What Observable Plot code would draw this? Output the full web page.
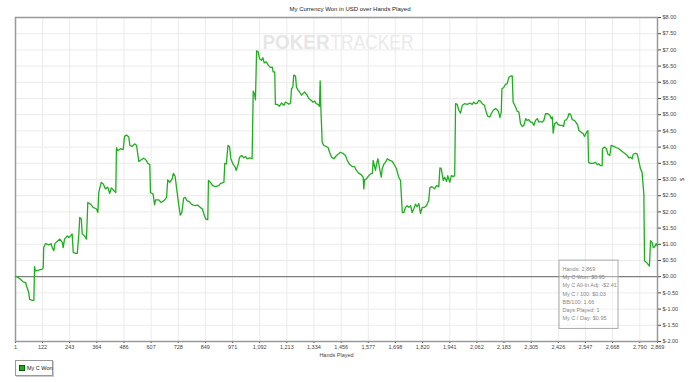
<!DOCTYPE html>
<html>
<head>
<meta charset="utf-8">
<script src="https://cdn.jsdelivr.net/npm/d3@7"></script>
<script src="https://cdn.jsdelivr.net/npm/@observablehq/plot@0.6"></script>
<style>
  html, body { margin: 0; padding: 0; background: #fff; }
  body { width: 700px; height: 382px; overflow: hidden; font-family: "Liberation Sans", Arial, sans-serif; }
  #title { height: 13px; box-sizing: border-box; padding-top: 3px; line-height: 12px; font-size: 6px; text-align: center; color: #222; }
  #chart svg { display: block; }
  #legend { margin: 2px 0 0 15px; width: 38px; height: 16px; box-sizing: border-box; border: 1px solid #999; box-shadow: 1px 1px 0 #ccc; font-size: 5.5px; color: #222; display: flex; align-items: center; padding-left: 3px; white-space: nowrap; }
  #legend .sw { flex: none; width: 4px; height: 4px; background: #1fae1f; border: 1px solid #0b5e0b; margin-right: 2px; }
</style>
</head>
<body>
<div id="title"></div>
<div id="chart"></div>
<div id="legend"><span class="sw"></span><span id="legendText"></span></div>
<script>
const chartTitle = "My Currency Won in USD over Hands Played";
const seriesName = "My C Won";
const xLabel = "Hands Played";
const yLabel = "$";

// [hand, cumulative USD won]
const wonByHand = [
  [1,0],[9,0],[23,-0.08],[35,-0.16],[46,-0.18],[50,-0.28],[60,-0.49],[64,-0.70],[76,-0.73],[83,-0.73],
  [86,0.31],[90,0.18],[105,0.20],[120,0.23],[125,0.28],[127,0.90],[135,1.02],[150,0.98],[160,1.02],[165,0.90],
  [172,0.80],[177,1.02],[187,1.09],[199,1.16],[210,1.06],[214,0.90],[220,1.16],[232,1.26],[239,1.21],[247,1.26],
  [254,1.32],[259,0.75],[269,0.72],[277,0.72],[284,1.32],[288,1.83],[295,1.78],[299,1.32],[309,1.26],[318,1.16],
  [324,2.29],[336,2.24],[348,2.14],[363,2.09],[369,1.98],[373,2.60],[384,2.91],[393,2.86],[403,2.71],[413,2.76],
  [422,2.57],[429,2.74],[440,2.66],[449,2.60],[452,3.98],[458,3.89],[470,3.95],[482,3.92],[488,4.33],[497,4.37],
  [507,4.31],[512,4.05],[522,4.02],[533,4.10],[542,4.05],[547,3.79],[552,3.56],[563,3.61],[574,3.66],[585,3.59],
  [592,3.50],[601,3.46],[604,2.60],[616,2.55],[622,2.22],[627,2.37],[641,2.37],[652,2.29],[664,2.35],[676,2.45],
  [681,2.99],[690,2.91],[701,3.02],[706,3.19],[714,3.10],[721,2.71],[729,2.29],[737,1.90],[744,1.98],[752,2.42],
  [759,2.45],[766,2.35],[777,2.32],[786,2.24],[796,2.21],[804,2.19],[815,2.21],[826,2.14],[836,2.09],[845,1.88],
  [851,1.78],[860,1.76],[863,2.97],[872,2.91],[882,2.81],[894,2.78],[909,2.81],[917,2.88],[932,2.91],[936,3.50],
  [943,3.48],[950,4.05],[957,4.02],[963,3.64],[972,3.48],[981,3.40],[987,3.28],[996,3.48],[1002,3.69],[1011,3.74],
  [1021,3.67],[1029,3.71],[1036,3.64],[1047,3.67],[1058,3.64],[1063,5.73],[1069,5.63],[1073,5.46],[1078,6.97],[1085,6.94],
  [1091,6.73],[1100,6.68],[1106,6.76],[1112,6.60],[1121,6.63],[1130,6.53],[1140,6.46],[1148,6.47],[1152,6.32],[1159,6.32],
  [1162,5.32],[1170,5.32],[1180,5.26],[1189,5.36],[1200,5.29],[1207,5.39],[1215,5.36],[1222,5.32],[1230,5.36],[1234,5.80],
  [1240,5.85],[1244,6.22],[1252,6.19],[1256,5.85],[1264,5.75],[1270,5.70],[1279,5.60],[1285,5.65],[1293,5.70],[1304,5.60],
  [1311,5.50],[1323,5.44],[1329,5.39],[1338,5.42],[1344,5.34],[1353,5.32],[1359,5.26],[1362,6.04],[1365,5.24],[1371,4.15],
  [1378,4.05],[1389,4.02],[1398,3.98],[1404,3.84],[1413,3.69],[1423,3.64],[1431,3.71],[1443,3.79],[1453,3.84],[1463,3.81],
  [1475,3.74],[1483,3.59],[1494,3.46],[1505,3.40],[1515,3.40],[1524,3.28],[1535,3.19],[1545,3.15],[1554,3.07],[1557,2.71],
  [1560,2.99],[1569,3.02],[1579,3.12],[1587,3.17],[1595,3.19],[1599,3.59],[1605,3.40],[1609,3.28],[1614,3.48],[1620,3.64],
  [1629,3.28],[1635,3.07],[1639,3.33],[1647,3.48],[1654,3.53],[1662,3.64],[1673,3.59],[1684,3.56],[1691,3.48],[1703,3.33],
  [1713,3.07],[1721,2.97],[1729,1.98],[1736,1.98],[1743,2.14],[1751,2.19],[1758,2.14],[1766,2.19],[1773,1.98],[1780,2.09],
  [1788,2.24],[1795,2.16],[1803,2.26],[1810,1.95],[1818,2.14],[1828,2.14],[1837,2.19],[1847,2.35],[1852,2.74],[1862,2.78],
  [1873,2.71],[1882,2.81],[1892,2.78],[1897,3.36],[1903,3.33],[1912,2.97],[1918,3.07],[1927,2.94],[1932,3.12],[1941,2.91],
  [1948,3.12],[1957,3.09],[1963,3.12],[1967,5.34],[1974,5.32],[1982,5.13],[1989,5.05],[1997,5.29],[2007,5.34],[2019,5.32],
  [2031,5.36],[2041,5.32],[2048,5.39],[2056,5.34],[2064,5.36],[2071,5.44],[2078,5.42],[2086,5.34],[2096,5.29],[2105,5.05],
  [2111,4.95],[2120,4.93],[2126,5.03],[2135,5.13],[2145,5.19],[2156,5.13],[2162,5.01],[2165,4.91],[2171,5.08],[2174,5.80],
  [2182,5.84],[2190,5.94],[2197,5.95],[2205,6.15],[2212,6.19],[2220,6.20],[2224,5.39],[2235,5.24],[2242,5.11],[2250,5.08],
  [2257,4.72],[2265,4.64],[2272,4.67],[2280,4.88],[2287,4.82],[2294,4.85],[2302,4.77],[2309,4.77],[2317,4.67],[2324,4.82],
  [2332,4.88],[2339,4.77],[2347,4.79],[2354,4.77],[2361,4.82],[2369,5.03],[2379,5.03],[2388,4.98],[2394,4.88],[2399,4.93],
  [2403,4.43],[2409,4.72],[2418,4.77],[2424,4.70],[2433,4.67],[2443,4.67],[2450,4.64],[2454,4.82],[2463,4.85],[2469,4.93],
  [2473,5.03],[2481,5.01],[2488,4.85],[2499,4.82],[2507,4.74],[2513,4.67],[2518,4.51],[2528,4.46],[2537,4.41],[2543,4.33],
  [2552,4.46],[2558,4.51],[2561,3.53],[2570,3.50],[2582,3.50],[2592,3.53],[2600,3.46],[2607,3.48],[2614,3.43],[2622,3.43],
  [2623,3.95],[2632,4.00],[2641,3.95],[2647,3.79],[2656,3.74],[2662,4.05],[2674,4.02],[2686,3.98],[2696,3.95],[2707,3.89],
  [2716,3.84],[2726,3.79],[2734,3.74],[2741,3.67],[2748,3.69],[2756,3.64],[2760,3.77],[2770,3.81],[2778,3.79],[2785,3.59],
  [2793,3.33],[2800,3.22],[2808,2.55],[2811,0.49],[2820,0.44],[2826,0.39],[2833,0.33],[2838,1.11],[2845,1.06],[2850,0.90],
  [2856,0.92],[2863,1.02],[2869,0.95]
];

const xTicks = [1,122,243,364,486,607,728,849,971,1092,1213,1334,1456,1577,1698,1820,1941,2062,2183,2305,2426,2547,2668,2790,2869];
const yTicks = [-2,-1.5,-1,-0.5,0,0.5,1,1.5,2,2.5,3,3.5,4,4.5,5,5.5,6,6.5,7,7.5,8];
const xDomain = [1, 2869];
const yDomain = [-2, 8];

const tipLines = ["Hands: 2,869","My C Won: $0.95","My C All-In Adj: -$2.41","My C / 100: $0.03","BB/100: 1.66","Days Played: 1","My C / Day: $0.95"];
const watermark = ["POKER", "TRACKER"];

const data = wonByHand.map(([hand, won]) => ({hand, won}));
const last = data[data.length - 1];

document.getElementById("title").textContent = chartTitle;
document.getElementById("legendText").textContent = seriesName;

const chart = Plot.plot({
  width: 700,
  height: 345,
  marginLeft: 15,
  marginRight: 43,
  marginTop: 4,
  marginBottom: 17,
  style: {fontFamily: "'Liberation Sans', Arial, sans-serif", fontSize: "5.5px", color: "#444", background: "#fff"},
  x: {domain: xDomain, ticks: xTicks, tickFormat: d3.format(","), tickSize: 2, tickPadding: 2, label: xLabel, labelAnchor: "center", labelOffset: 15, labelArrow: false},
  y: {domain: yDomain, ticks: yTicks, tickFormat: d => "$" + d.toFixed(2), axis: "right", tickSize: 3, tickPadding: 2, label: yLabel, labelAnchor: "center", labelOffset: 26, labelArrow: false},
  marks: [
    Plot.gridX(xTicks, {stroke: "#ebebeb", strokeOpacity: 1}),
    Plot.gridY(yTicks, {stroke: "#ebebeb", strokeOpacity: 1}),
    Plot.text([watermark[0]], {frameAnchor: "top", textAnchor: "end", lineAnchor: "middle", dx: -7, dy: 24.5, fontSize: 21, fontWeight: "bold", fill: "#e6e6e6"}),
    Plot.text([watermark[1]], {frameAnchor: "top", textAnchor: "start", lineAnchor: "middle", dx: -6, dy: 24.5, fontSize: 21, fill: "#eaeaea"}),
    Plot.ruleY([0], {stroke: "#666", strokeWidth: 1}),
    Plot.frame({stroke: "#999", strokeWidth: 1.5}),
    Plot.line(data, {x: "hand", y: "won", stroke: "#1fae1f", strokeWidth: 1.3}),
    // tooltip box anchored to the hovered (last) point
    Plot.rect([last], {x1: "hand", x2: "hand", y1: "won", y2: "won", insetLeft: -98, insetRight: 39, insetTop: 14.7, insetBottom: -83, fill: "#fff", fillOpacity: 0.35, stroke: "#aaa", strokeWidth: 1}),
    Plot.text([last], {x: "hand", y: "won", text: () => tipLines.join("\n"), textAnchor: "start", lineAnchor: "top", lineHeight: 1.5, dx: -95, dy: 19, fontSize: 5.5, fill: "#888"})
  ]
});
document.getElementById("chart").appendChild(chart);

const svg = d3.select(chart);
const texts = svg.selectAll("text");
texts.filter(function () { return this.textContent === watermark[0]; })
  .attr("textLength", 67).attr("lengthAdjust", "spacingAndGlyphs");
texts.filter(function () { return this.textContent === watermark[1]; })
  .attr("textLength", 83).attr("lengthAdjust", "spacingAndGlyphs");
</script>
</body>
</html>
